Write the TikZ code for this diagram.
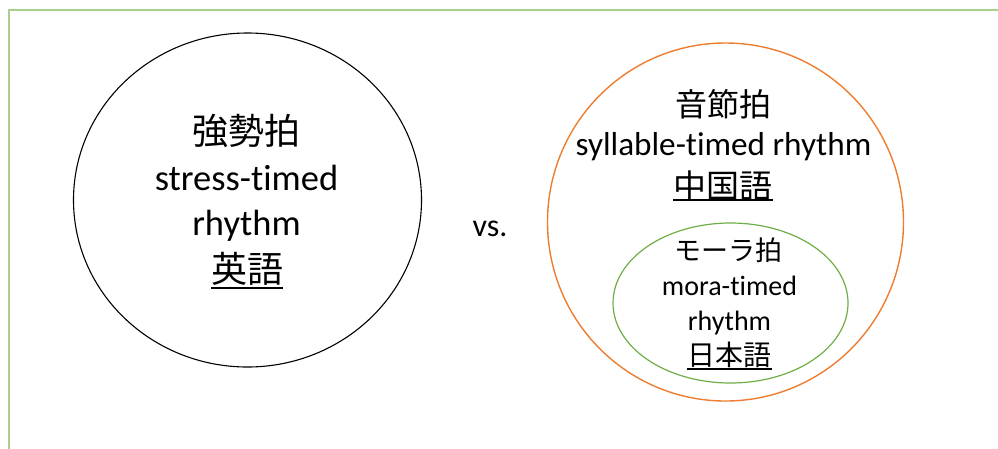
\documentclass[tikz,border=0pt]{standalone}
\usepackage{fontspec}
\setmainfont{Carlito}[Ligatures=NoCommon]
\newfontfamily\cjk{Noto Sans CJK JP}
\usetikzlibrary{shapes.geometric}
\definecolor{bordergreen}{RGB}{169,209,142}
\definecolor{accorange}{RGB}{237,125,49}
\definecolor{accgreen}{RGB}{112,173,71}
\begin{document}
\begin{tikzpicture}[x=1pt,y=-1pt,
  lat/.style={inner sep=0pt, anchor=base, text=black},
  cjt/.style={inner sep=0pt, anchor=center, text=black},
  ul/.style={line width=1.8pt, black},
  ring/.style={ellipse, inner sep=0pt}]
\useasboundingbox (0,0) rectangle (998,448);
\clip (0,0) rectangle (998,448);
\draw[bordergreen, line width=2.4pt] (9,10) rectangle (1030,480);

% left circle
\node[ring, draw=black, line width=1.1pt, minimum width=348pt, minimum height=334pt] (lc) at (247.5,200) {};
\node[cjt, font=\cjk\fontsize{36}{36}\selectfont] (kyou) at (246.5,131) {強勢拍};
\node[lat, font=\fontsize{36.5}{36.5}\selectfont] (stress) at (246.5,190) {stress-timed};
\node[lat, font=\fontsize{36.5}{36.5}\selectfont] (rhy1) at (246.5,235) {rhythm};
\node[cjt, font=\cjk\fontsize{36}{36}\selectfont] (eigo) at (247,268.5) {英語};
\draw[ul] (eigo.west |- 0,288) -- (eigo.east |- 0,288);

% vs
\node[lat, font=\fontsize{32}{32}\selectfont] (vs) at (490,236) {vs.};

% right circle
\node[ring, draw=accorange, line width=1.4pt, minimum width=356pt, minimum height=358pt] (rc) at (725.5,222) {};
\node[cjt, font=\cjk\fontsize{32}{32}\selectfont] (onsetsu) at (723,104.5) {音節拍};
\node[lat, font=\fontsize{33.2}{33.2}\selectfont] (syll) at (723.5,155) {syllable-timed rhythm};
\node[cjt, font=\cjk\fontsize{33}{33}\selectfont] (chugoku) at (723,186) {中国語};
\draw[ul] (chugoku.west |- 0,200) -- (chugoku.east |- 0,200);

% inner ellipse
\node[ring, draw=accgreen, line width=1.2pt, minimum width=235pt, minimum height=160pt] (ie) at (730.5,303) {};
\node[cjt, font=\cjk\fontsize{27}{27}\selectfont] (mora) at (728,250) {モーラ拍};
\node[lat, font=\fontsize{28}{28}\selectfont] (morat) at (729.5,295) {mora-timed};
\node[lat, font=\fontsize{28}{28}\selectfont] (rhy2) at (729.5,330) {rhythm};
\node[cjt, font=\cjk\fontsize{28}{28}\selectfont] (nihon) at (729.5,355) {日本語};
\draw[ul] (nihon.west |- 0,369) -- (nihon.east |- 0,369);
\end{tikzpicture}
\end{document}
